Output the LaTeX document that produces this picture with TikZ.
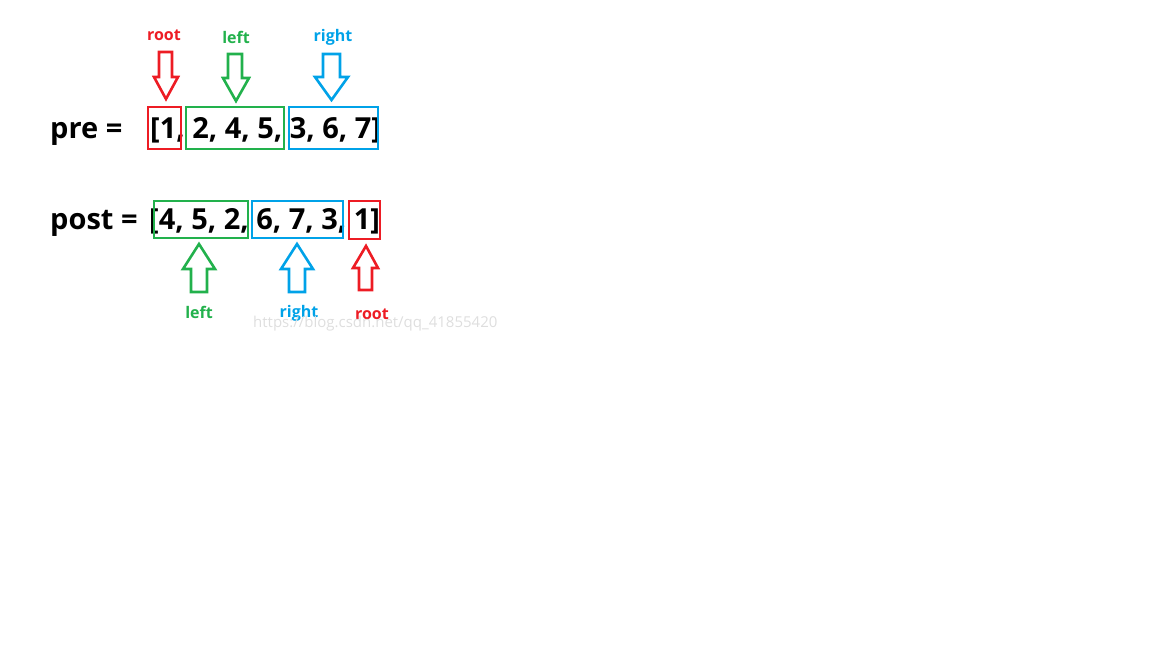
\documentclass[tikz,border=0pt]{standalone}
\usepackage{fontspec}
\setmainfont{Open Sans}
\definecolor{pred}{RGB}{237,28,36}
\definecolor{pgreen}{RGB}{34,177,76}
\definecolor{pblue}{RGB}{0,162,232}
\definecolor{wmgray}{RGB}{222,222,222}
\begin{document}
\begin{tikzpicture}[x=1pt,y=-1pt,
  bigtxt/.style={anchor=base west,inner sep=0pt,font=\fontsize{29}{29}\selectfont\bfseries},
  lbl/.style={inner sep=0pt,font=\fontsize{16}{16}\selectfont\bfseries},
  segbox/.style={draw,line width=2.6pt},
  arr/.style={draw,line width=2.6pt,line join=miter}]
\useasboundingbox (0,0) rectangle (1152,648);
% pre row
\node[bigtxt] (pre) at (50,138) {pre =};
\node[bigtxt] (prelist) at (150,138) {[1, 2, 4, 5, 3, 6, 7]};
\draw[segbox,pred] (148,107) rectangle (181,149);
\draw[segbox,pgreen] (186,107) rectangle (284,149);
\draw[segbox,pblue] (289,107) rectangle (378,149);
% post row
\node[bigtxt] (post) at (50,229) {post =};
\node[bigtxt] (postlist) at (149,229) {[4, 5, 2, 6, 7, 3, 1]};
\draw[segbox,pgreen] (154,201) rectangle (248,238);
\draw[segbox,pblue] (252,201) rectangle (343,238);
\draw[segbox,pred] (349,201) rectangle (380,239);
% top arrows (down)
\draw[arr,pred] (159,52) -- (172,52) -- (172,77) -- (178,77) -- (166,99) -- (154,77) -- (159,77) -- cycle;
\draw[arr,pgreen] (228,54) -- (242,54) -- (242,78) -- (249,78) -- (236,101) -- (223,78) -- (228,78) -- cycle;
\draw[arr,pblue] (323,54) -- (340,54) -- (340,77) -- (348,77) -- (331.5,100) -- (315,77) -- (323,77) -- cycle;
% bottom arrows (up)
\draw[arr,pgreen] (191,292) -- (207,292) -- (207,269) -- (215,269) -- (199,244) -- (183,269) -- (191,269) -- cycle;
\draw[arr,pblue] (289,292) -- (305,292) -- (305,269) -- (313,269) -- (297,244) -- (281,269) -- (289,269) -- cycle;
\draw[arr,pred] (359,290) -- (372,290) -- (372,268) -- (378,268) -- (366,246) -- (353,268) -- (359,268) -- cycle;
% labels
\node[lbl,text=pred] (troot) at (164,35) {root};
\node[lbl,text=pgreen] (tleft) at (236,37) {left};
\node[lbl,text=pblue] (tright) at (333,37) {right};
\node[lbl,text=pgreen] (bleft) at (199,312) {left};
\node[lbl,text=pblue] (bright) at (299,313) {right};
\node[lbl,text=pred] (broot) at (372,314) {root};
% watermark
\node[anchor=base west,inner sep=0pt,text=wmgray,font=\fontsize{15}{15}\selectfont] (wm) at (253,327) {https://blog.csdn.net/qq\_41855420};
\end{tikzpicture}
\end{document}
